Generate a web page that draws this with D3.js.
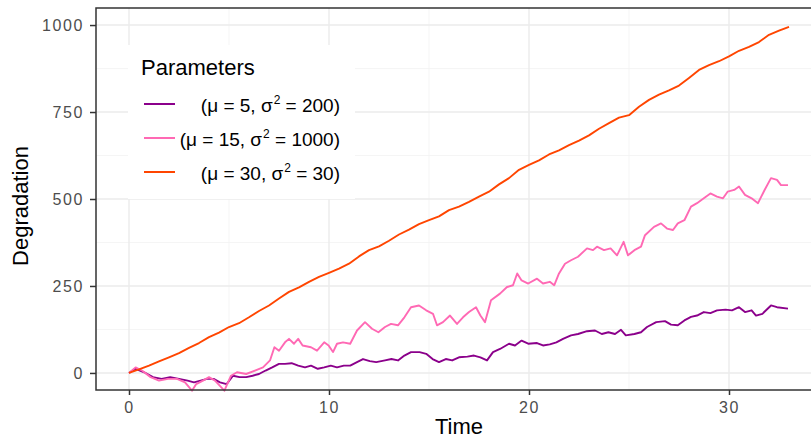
<!DOCTYPE html>
<meta charset="utf-8">
<style>
  body { margin: 0; background: #fff; }
  svg text { font-family: "Liberation Sans", Arial, sans-serif; }
  .tick text { fill: #4d4d4d; font-size: 16px; letter-spacing: 1.6px; }
  .grid-major { stroke: #ebebeb; stroke-width: 1.4px; }
  .grid-minor { stroke: #f2f2f2; stroke-width: 0.8px; }
  .line { fill: none; stroke-width: 1.9px; stroke-linejoin: round; }
</style>
<body>
<script src="https://d3js.org/d3.v7.min.js"></script>
<script>

// ---- data ----
var orangeTime = [0, 0.5, 1, 1.5, 2, 2.5, 3, 3.5, 4, 4.5, 5, 5.5, 6, 6.5, 7, 7.5, 8, 8.5, 9, 9.5,
  10, 10.5, 11, 11.5, 12, 12.5, 13, 13.5, 14, 14.5, 15, 15.5, 16, 16.5, 17, 17.5, 18, 18.5, 19, 19.5,
  20, 20.5, 21, 21.5, 22, 22.5, 23, 23.5, 24, 24.5, 25, 25.5, 26, 26.5, 27, 27.5, 28, 28.5, 29, 29.5,
  30, 30.5, 31, 31.5, 32, 32.5, 33];
var orangeValue = [0, 10, 21, 33, 45, 57, 72, 86, 103, 116, 132, 143, 160, 178, 194, 214, 233, 246, 262, 276,
  288, 300, 314, 335, 353, 364, 380, 398, 412, 428, 439, 450, 468, 478, 492, 507, 521, 542, 560, 584,
  598, 611, 628, 640, 655, 668, 683, 702, 718, 734, 741, 765, 785, 800, 812, 826, 848, 871, 885, 896,
  910, 926, 937, 951, 972, 984, 995];

var pinkTime = [0, 0.33, 0.65, 1.08, 1.5, 1.95, 2.4, 2.8, 3.15, 3.36, 3.7, 4.0, 4.3, 4.77, 5.1, 5.4, 5.86,
  6.3, 6.7, 7.05, 7.27, 7.5, 7.8, 8.0, 8.25, 8.46, 8.68, 9.1, 9.4, 9.76, 9.98, 10.2, 10.4, 10.7, 11.06,
  11.4, 11.8, 12.15, 12.47, 12.8, 13.1, 13.45, 13.77, 14.1, 14.5, 14.86, 15.2, 15.4, 15.7, 16.05, 16.4,
  16.7, 17.0, 17.35, 17.57, 17.8, 18.1, 18.55, 18.9, 19.2, 19.41, 19.63, 19.96, 20.4, 20.7, 21.04, 21.26,
  21.5, 21.8, 22.1, 22.45, 22.9, 23.2, 23.4, 23.75, 24.08, 24.4, 24.73, 24.95, 25.27, 25.6, 25.8, 26.25,
  26.6, 26.9, 27.2, 27.44, 27.77, 28.1, 28.4, 28.74, 29.07, 29.4, 29.7, 29.93, 30.26, 30.5, 30.8, 31.13,
  31.45, 31.78, 32.1, 32.4, 32.6, 32.95];
var pinkValue = [0, 16, 7, -12, -22, -17, -17, -27, -51, -32, -22, -12, -22, -51, -8, 2, -3,
  7, 16, 36, 74, 64, 88, 98, 84, 98, 79, 74, 64, 88, 79, 60, 84, 88, 84,
  122, 146, 127, 117, 132, 141, 137, 160, 189, 194, 180, 170, 137, 146, 165, 141,
  160, 175, 189, 165, 146, 209, 228, 247, 252, 286, 266, 257, 271, 257, 262, 252,
  286, 314, 324, 334, 358, 353, 363, 353, 358, 338, 377, 338, 353, 363, 396, 420,
  430, 415, 411, 430, 439, 478, 488, 502, 516, 507, 502, 521, 526, 536, 512, 502,
  488, 526, 560, 555, 540, 540];

var purpleTime = [0, 0.33, 0.76, 1.2, 1.63, 2.06, 2.5, 2.93, 3.25, 3.58, 3.9, 4.23, 4.55, 4.88, 5.2, 5.53,
  5.86, 6.18, 6.5, 6.83, 7.16, 7.5, 7.8, 8.13, 8.46, 8.8, 9.1, 9.44, 9.76, 10.09, 10.4, 10.74, 11.06,
  11.4, 11.7, 12.04, 12.36, 12.8, 13.12, 13.45, 13.77, 14.1, 14.53, 14.86, 15.18, 15.5, 15.84, 16.16,
  16.5, 16.92, 17.25, 17.57, 17.9, 18.2, 18.55, 19.0, 19.3, 19.63, 19.96, 20.4, 20.7, 21.04, 21.37,
  21.7, 22.1, 22.45, 22.9, 23.3, 23.64, 23.97, 24.3, 24.6, 24.84, 25.27, 25.6, 25.9, 26.36, 26.8, 27.1,
  27.44, 27.77, 28.1, 28.4, 28.74, 29.07, 29.4, 29.83, 30.15, 30.5, 30.8, 31.13, 31.35, 31.67, 32.1,
  32.4, 32.95];
var purpleValue = [0, 12, 2, -12, -17, -12, -17, -22, -27, -22, -17, -17, -27, -32, -8, -12,
  -12, -8, -3, 7, 16, 26, 26, 28, 21, 16, 21, 12, 16, 21, 16, 21, 21,
  31, 40, 34, 31, 36, 40, 36, 50, 60, 60, 55, 40, 31, 40, 36,
  45, 47, 50, 45, 36, 60, 69, 84, 79, 93, 84, 86, 79, 82, 88,
  98, 108, 112, 120, 122, 112, 117, 112, 124, 108, 112, 117, 132, 146, 149, 139,
  137, 151, 161, 165, 175, 172, 180, 182, 180, 189, 175, 180, 165, 170, 194,
  189, 185];

var seriesNames = ["purple", "pink", "orange"];
var seriesColors = ["#8b008b", "#ff69b4", "#ff4500"];
var legendMu = ["5", "15", "30"];
var legendSigma = ["200", "1000", "30"];

var xTicks = [0, 10, 20, 30];
var xMinor = [5, 15, 25];
var yTicks = [0, 250, 500, 750, 1000];
var yMinor = [125, 375, 625, 875];

// ---- layout ----
var W = 811, H = 438;
var margin = {top: 8, left: 96, bottom: 48};
var panelRight = 822;
var svg = d3.select("body").append("svg").attr("width", W).attr("height", H);

var x = d3.scaleLinear().domain([-1.65, 34.65]).range([margin.left, panelRight]);
var y = d3.scaleLinear().domain([-49, 1049]).range([H - margin.bottom, margin.top]);

var g = svg.append("g");

// grid
g.selectAll(".ymin").data(yMinor).enter().append("line").attr("class", "grid-minor")
  .attr("x1", margin.left).attr("x2", panelRight).attr("y1", d => y(d)).attr("y2", d => y(d));
g.selectAll(".xmin").data(xMinor).enter().append("line").attr("class", "grid-minor")
  .attr("y1", margin.top).attr("y2", H - margin.bottom).attr("x1", d => x(d)).attr("x2", d => x(d));
g.selectAll(".ymaj").data(yTicks).enter().append("line").attr("class", "grid-major")
  .attr("x1", margin.left).attr("x2", panelRight).attr("y1", d => y(d)).attr("y2", d => y(d));
g.selectAll(".xmaj").data(xTicks).enter().append("line").attr("class", "grid-major")
  .attr("y1", margin.top).attr("y2", H - margin.bottom).attr("x1", d => x(d)).attr("x2", d => x(d));

// lines
var series = [
  {id: "purple", t: purpleTime, v: purpleValue},
  {id: "pink", t: pinkTime, v: pinkValue},
  {id: "orange", t: orangeTime, v: orangeValue}
];
var line = d3.line().x(d => x(d[0])).y(d => y(d[1]));
series.forEach(function(s) {
  var pts = s.t.map((t, j) => [t, s.v[j]]);
  g.append("path").attr("class", "line").attr("d", line(pts))
    .style("stroke", seriesColors[seriesNames.indexOf(s.id)]);
});

// panel border
svg.append("rect").attr("x", margin.left).attr("y", margin.top)
  .attr("width", panelRight - margin.left).attr("height", H - margin.bottom - margin.top)
  .attr("fill", "none").attr("stroke", "#333").attr("stroke-width", 1.5);

// axes
var xAxis = svg.append("g").attr("transform", "translate(0," + (H - margin.bottom) + ")")
  .call(d3.axisBottom(x).tickValues(xTicks).tickSize(5).tickPadding(7));
var yAxis = svg.append("g").attr("transform", "translate(" + margin.left + ",0)")
  .call(d3.axisLeft(y).tickValues(yTicks).tickFormat(d3.format("d")).tickSize(6).tickPadding(6));
[xAxis, yAxis].forEach(function(a) {
  a.select(".domain").remove();
  a.selectAll(".tick line").attr("stroke", "#333").attr("stroke-width", 1.5);
  a.selectAll(".tick text").attr("font-size", null).attr("font-family", null);
});
yAxis.selectAll(".tick text").attr("dy", "0.36em");

// axis titles
svg.append("text").attr("x", (margin.left + panelRight) / 2).attr("y", 434)
  .attr("text-anchor", "middle").style("font-size", "22px").text("Time");
svg.append("text").attr("transform", "translate(28,206) rotate(-90)")
  .attr("text-anchor", "middle").style("font-size", "22px").text("Degradation");

// legend
var leg = svg.append("g");
leg.append("rect").attr("x", 128).attr("y", 45).attr("width", 227).attr("height", 154).attr("fill", "#fff");
leg.append("text").attr("x", 141).attr("y", 75).style("font-size", "22px").text("Parameters");
seriesNames.forEach(function(name, i) {
  var cy = 104 + i * 34;
  leg.append("line").attr("x1", 144).attr("x2", 175).attr("y1", cy).attr("y2", cy)
    .attr("stroke", seriesColors[i]).attr("stroke-width", 2);
  var t = leg.append("text").attr("x", 340).attr("y", cy + 7.5).attr("text-anchor", "end")
    .style("font-size", "19px");
  t.append("tspan").text("(\u03bc = " + legendMu[i] + ", \u03c3");
  t.append("tspan").attr("dy", -8).attr("dx", 1).style("font-size", "12px").text("2");
  t.append("tspan").attr("dy", 8).text(" = " + legendSigma[i] + ")");
});
</script>
</body>
